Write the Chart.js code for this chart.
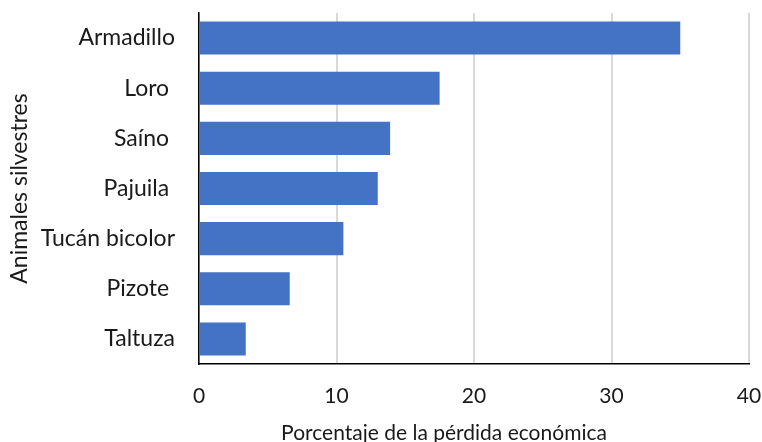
<!DOCTYPE html>
<html>
<head>
<meta charset="utf-8">
<script src="https://cdn.jsdelivr.net/npm/chart.js@4.4.0/dist/chart.umd.min.js"></script>
<style>
	html, body { margin: 0; padding: 0; background: #fff; overflow: hidden; }
	#wrap { width: 762px; height: 460px; }
</style>
</head>
<body>
<div id="wrap"><canvas id="chart" width="762" height="460"></canvas></div>
<script>
// trailing spaces are in the original labels
const animales = ['Armadillo', 'Loro ', 'Saíno ', 'Pajuila ', 'Tucán bicolor', 'Pizote ', 'Taltuza'];
const perdida = [35, 17.5, 13.9, 13.0, 10.5, 6.6, 3.4];
const xTicks = [0, 10, 20, 30, 40];
const xTitle = 'Porcentaje de la pérdida económica';

const font = 'Lato';
const textColor = '#1a1a1a';

// no automatic room for half labels, the padding below is exact
function noPad(axis) {
	axis.paddingTop = 0;
	axis.paddingBottom = 0;
	axis.paddingLeft = 0;
	axis.paddingRight = 0;
}

// the x title sits a bit left of the plot centre in the original
const xTitlePlugin = {
	id: 'xTitle',
	afterDraw(chart) {
		const { ctx, chartArea } = chart;
		ctx.save();
		ctx.font = `21px ${font}`;
		ctx.fillStyle = textColor;
		ctx.textAlign = 'center';
		ctx.textBaseline = 'middle';
		ctx.fillText(xTitle, (chartArea.left + chartArea.right) / 2 - 30, 433);
		ctx.restore();
	},
};

new Chart(document.getElementById('chart'), {
	type: 'bar',
	data: {
		labels: animales,
		datasets: [
			{
				data: perdida,
				backgroundColor: '#4472C4',
				borderWidth: 0,
				barPercentage: 0.66,
				categoryPercentage: 1,
			},
		],
	},
	options: {
		indexAxis: 'y',
		responsive: false,
		animation: false,
		layout: {
			padding: { top: 13, right: 13, bottom: 0, left: 0 },
		},
		plugins: {
			legend: { display: false },
			tooltip: { enabled: false },
		},
		scales: {
			x: {
				min: 0,
				max: 40,
				afterBuildTicks: (axis) => {
					axis.ticks = xTicks.map((v) => ({ value: v }));
				},
				afterFit: (axis) => {
					axis.height = 96;
					noPad(axis);
				},
				grid: {
					color: '#d9d9d9',
					lineWidth: 2,
					drawTicks: false,
				},
				border: { color: '#000', width: 1.5 },
				ticks: {
					padding: 20,
					color: textColor,
					font: { family: font, size: 21 },
				},
			},
			y: {
				afterFit: (axis) => {
					axis.width = 199;
					noPad(axis);
				},
				grid: { display: false, drawTicks: false },
				border: { color: '#000', width: 1.5 },
				ticks: {
					padding: 24,
					color: textColor,
					font: { family: font, size: 23 },
				},
				title: {
					display: true,
					text: 'Animales silvestres',
					color: textColor,
					font: { family: font, size: 23 },
					padding: { top: 6 },
				},
			},
		},
	},
	plugins: [xTitlePlugin],
});
</script>
</body>
</html>
